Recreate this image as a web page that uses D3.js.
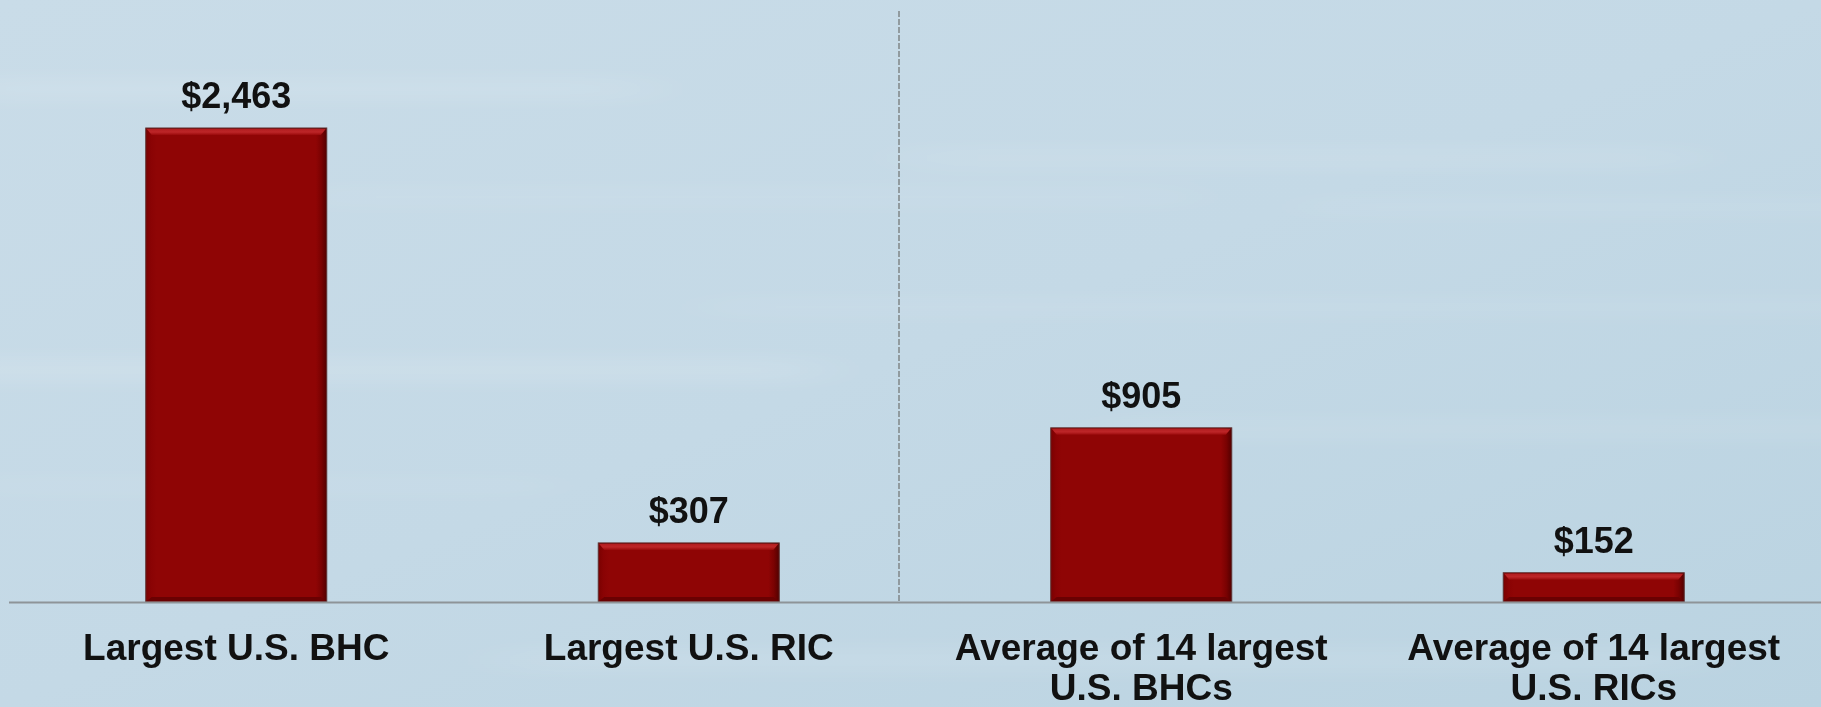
<!DOCTYPE html>
<html><head><meta charset="utf-8">
<script src="https://cdn.jsdelivr.net/npm/d3@7/dist/d3.min.js"></script>
<style>html,body{margin:0;padding:0;overflow:hidden;background:#c6dbe7}</style>
</head><body><svg id="c" width="1821" height="707"></svg>
<script>
const categories = [["Largest U.S. BHC"], ["Largest U.S. RIC"], ["Average of 14 largest", "U.S. BHCs"], ["Average of 14 largest", "U.S. RICs"]];
const values = [2463, 307, 905, 152];
const valueLabels = ["$2,463", "$307", "$905", "$152"];

const W = 1821, H = 707;
const svg = d3.select("#c");
const defs = svg.append("defs");

// background
const bg = defs.append("linearGradient").attr("id","bg").attr("x1","0").attr("y1","0").attr("x2","1").attr("y2","1");
bg.append("stop").attr("offset","0").attr("stop-color","#c9dce8");
bg.append("stop").attr("offset","0.5").attr("stop-color","#c4d9e6");
bg.append("stop").attr("offset","1").attr("stop-color","#bad3e1");
svg.append("rect").attr("width",W).attr("height",H).attr("fill","url(#bg)");
const blur = defs.append("filter").attr("id","blur").attr("x","-20%").attr("y","-300%").attr("width","140%").attr("height","700%");
blur.append("feGaussianBlur").attr("stdDeviation","40 10");
const streaks = [[-50,80,700,18,0.14],[300,190,900,14,0.1],[900,150,800,16,0.12],[-80,360,900,20,0.16],[700,300,1200,14,0.1],[1100,420,800,18,0.1],[-40,480,600,12,0.1],[500,650,1200,20,0.12],[1300,200,600,14,0.1]];
svg.append("g").attr("filter","url(#blur)").selectAll("rect").data(streaks).join("rect")
  .attr("x",d=>d[0]).attr("y",d=>d[1]).attr("width",d=>d[2]).attr("height",d=>d[3])
  .attr("fill","#ffffff").attr("opacity",d=>d[4]);

const baseY = 602;
const x = d3.scaleBand().domain(d3.range(values.length)).range([10, 1820]).paddingInner(0.6).paddingOuter(0.3);
const y = d3.scaleLinear().domain([0, 2463]).range([baseY, 128]);

// bar gradient (bevel)
const hg = defs.append("linearGradient").attr("id","hg").attr("x1","0").attr("x2","1").attr("y1","0").attr("y2","0");
[[0,"#7a0101"],[0.03,"#8a0304"],[0.06,"#8f0505"],[0.94,"#8f0505"],[0.97,"#7a0202"],[1,"#520000"]].forEach(s=>hg.append("stop").attr("offset",s[0]).attr("stop-color",s[1]));
const tg = defs.append("linearGradient").attr("id","tg").attr("x1","0").attr("x2","0").attr("y1","0").attr("y2","1");
[[0,"#b21d1f"],[0.5,"#bd2628"],[1,"#9a0a0b"]].forEach(s=>tg.append("stop").attr("offset",s[0]).attr("stop-color",s[1]));

const bars = svg.append("g");
values.forEach((v,i)=>{
  const bx = x(i), bw = x.bandwidth(), by = y(v), bh = baseY - by;
  bars.append("rect").attr("x",bx).attr("y",by).attr("width",bw).attr("height",bh)
    .attr("fill","url(#hg)").attr("stroke","#5e3030").attr("stroke-width",1);
  bars.append("path").attr("d",`M${bx+1},${by+1}H${bx+bw-1}L${bx+bw-6},${by+7}H${bx+6}Z`)
    .attr("fill","url(#tg)");
  bars.append("path").attr("d",`M${bx+1},${baseY-1}H${bx+bw-1}L${bx+bw-6},${baseY-5}H${bx+6}Z`)
    .attr("fill","#6a0102");
});

// axis baseline
svg.append("line").attr("x1",9).attr("x2",W).attr("y1",baseY+0.5).attr("y2",baseY+0.5)
  .attr("stroke","#8e9498").attr("stroke-width",2);

// divider
const divX = x(2) - x.step()*x.paddingInner()/2 - 16;
svg.append("line").attr("x1",divX).attr("x2",divX).attr("y1",11).attr("y2",baseY)
  .attr("stroke","#808688").attr("stroke-width",1.5).attr("stroke-dasharray","6,2");

// value labels
svg.append("g").selectAll("text").data(values).join("text")
  .attr("x",(d,i)=>x(i)+x.bandwidth()/2).attr("y",d=>y(d)-20)
  .attr("text-anchor","middle").attr("font-family","Liberation Sans, Arial, sans-serif")
  .attr("font-weight","bold").attr("font-size",36).attr("fill","#111")
  .text((d,i)=>valueLabels[i]);

// category labels
const cl = svg.append("g").selectAll("text").data(categories).join("text")
  .attr("x",(d,i)=>x(i)+x.bandwidth()/2).attr("y",660)
  .attr("text-anchor","middle").attr("font-family","Liberation Sans, Arial, sans-serif")
  .attr("font-weight","bold").attr("font-size",37).attr("fill","#111");
cl.selectAll("tspan").data(d=>d).join("tspan")
  .attr("x",function(){return this.parentNode.getAttribute("x");})
  .attr("dy",(d,j)=>j===0?0:40).text(d=>d);
</script></body></html>
